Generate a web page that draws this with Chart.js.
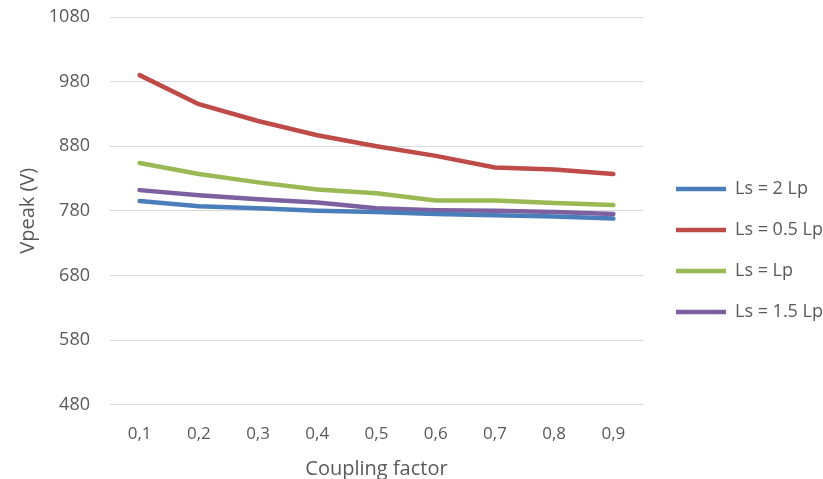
<!DOCTYPE html>
<html>
<head>
<meta charset="utf-8">
<script src="https://cdn.jsdelivr.net/npm/chart.js@4/dist/chart.umd.min.js"></script>
<style>
  html, body { margin: 0; padding: 0; background: #fff; }
  #wrap { width: 823px; height: 479px; position: relative; }
</style>
</head>
<body>
<div id="wrap"><canvas id="myChart"></canvas></div>
<script>
const categories = ['0,1', '0,2', '0,3', '0,4', '0,5', '0,6', '0,7', '0,8', '0,9'];

// Vpeak (V) per coupling factor
const ls2Lp   = [795, 787, 784, 780, 778, 775, 773, 771, 768];
const ls05Lp  = [990, 945, 919, 897, 880, 865, 847, 844, 837];
const ls1Lp   = [854, 837, 824, 813, 807, 796, 796, 792, 789];
const ls15Lp  = [812, 804, 798, 793, 784, 781, 780, 778, 775];

const seriesNames = ['Ls = 2 Lp', 'Ls = 0.5 Lp', 'Ls = Lp', 'Ls = 1.5 Lp'];
const colors = ['#4a7ebb', '#be4b48', '#98b954', '#7d60a0'];
const series = [ls2Lp, ls05Lp, ls1Lp, ls15Lp];

const font = "'Open Sans', 'DejaVu Sans', sans-serif";

// nudge the legend block a bit right and down, like the original
const legendNudge = {
    id: 'legendNudge',
    afterLayout(chart) {
        const lg = chart.legend;
        if (!lg) return;
        lg.left += 10; lg.right += 10;
        lg.top += 10; lg.bottom += 10;
    }
};

var ctx = document.getElementById('myChart').getContext('2d');
var myChart = new Chart(ctx, {
    type: 'line',
    data: {
        labels: categories,
        datasets: series.map((vals, i) => ({
            label: seriesNames[i],
            data: vals,
            borderColor: colors[i],
            backgroundColor: colors[i],
            borderWidth: 4.5,
            pointRadius: 0,
            pointStyle: 'line',
            tension: 0,
            borderCapStyle: 'round',
            borderJoinStyle: 'round'
        }))
    },
    plugins: [legendNudge],
    options: {
        responsive: true,
        maintainAspectRatio: false,
        animation: false,
        layout: { padding: { top: 0, right: 0, left: 12, bottom: -2 } },
        plugins: {
            tooltip: { enabled: false },
            legend: {
                position: 'right',
                labels: {
                    usePointStyle: true,
                    pointStyleWidth: 50,
                    boxHeight: 18,
                    padding: 23,
                    color: '#595959',
                    font: { family: font, size: 18 }
                }
            }
        },
        scales: {
            x: {
                offset: true,
                grid: { display: false },
                border: { color: '#d9d9d9', width: 1 },
                ticks: { color: '#595959', font: { family: font, size: 17 }, padding: 11 },
                title: {
                    display: true,
                    text: 'Coupling factor',
                    color: '#595959',
                    font: { family: font, size: 20 },
                    padding: { top: 2, bottom: 0 }
                }
            },
            y: {
                min: 480,
                max: 1080,
                afterFit: s => { s.width = 98; s.paddingTop = 17; },
                ticks: {
                    stepSize: 100,
                    color: '#595959',
                    font: { family: font, size: 18 },
                    padding: 20,
                    callback: v => String(v)
                },
                grid: { color: '#d9d9d9', drawTicks: false },
                border: { display: false },
                title: {
                    display: true,
                    text: 'Vpeak (V)',
                    color: '#595959',
                    font: { family: font, size: 20 },
                    padding: { bottom: 4 }
                }
            }
        }
    }
});
</script>
</body>
</html>
